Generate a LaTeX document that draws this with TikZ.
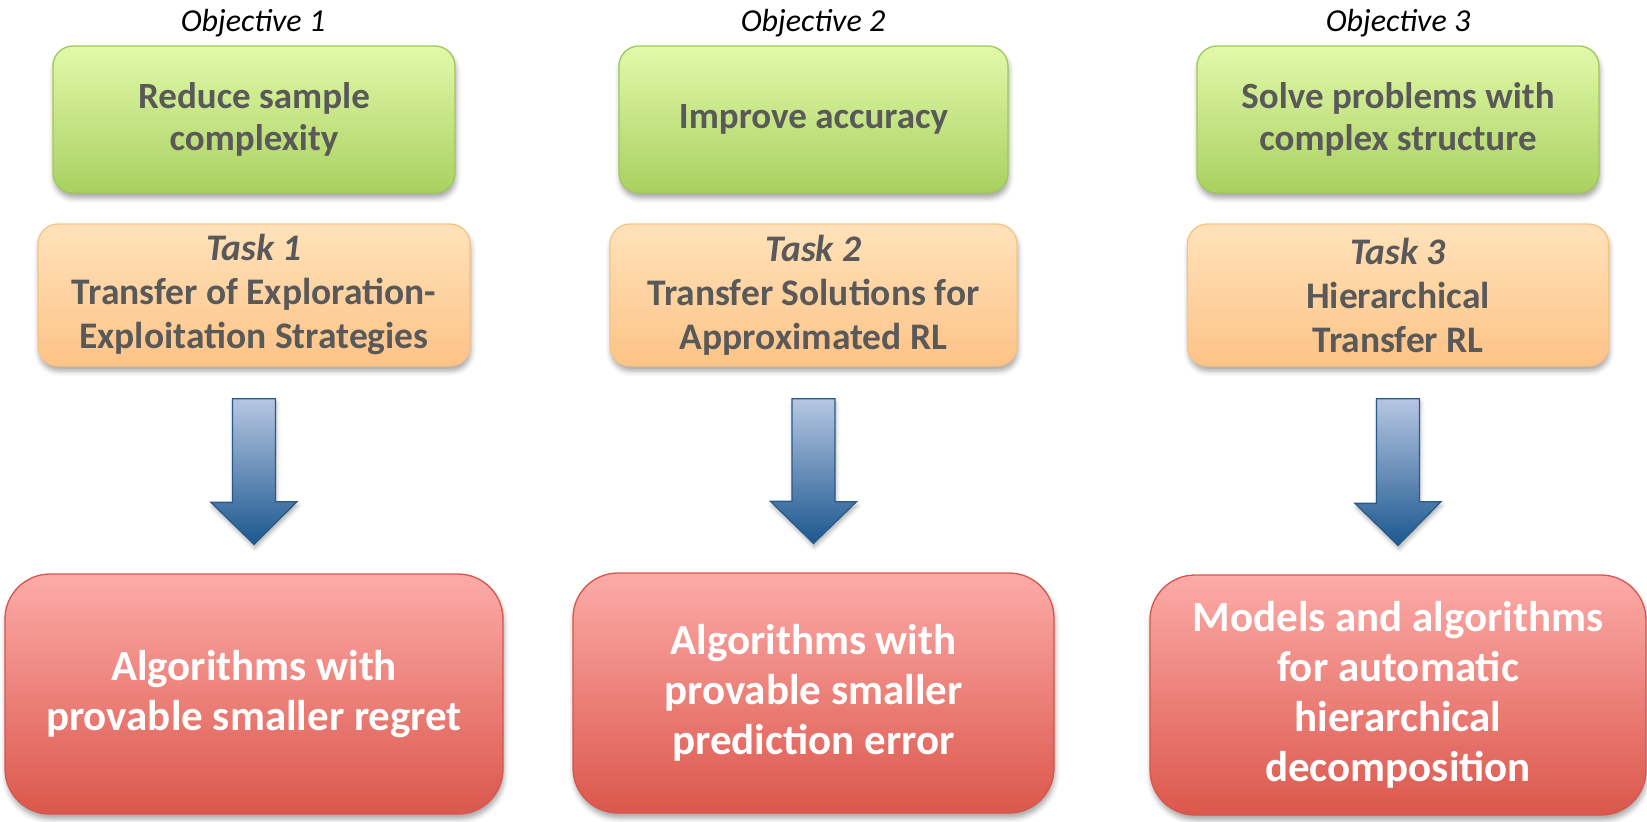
\documentclass[tikz,border=0pt]{standalone}
\usepackage{fontspec}
\setmainfont{Carlito}
\usetikzlibrary{calc,shadows.blur}
\definecolor{txtgray}{RGB}{89,89,89}
\definecolor{greentop}{RGB}{225,249,170}
\definecolor{greenbot}{RGB}{170,208,96}
\definecolor{greenline}{RGB}{160,200,90}
\definecolor{orangetop}{RGB}{255,226,186}
\definecolor{orangebot}{RGB}{253,195,135}
\definecolor{orangeline}{RGB}{250,195,130}
\definecolor{redtop}{RGB}{253,171,168}
\definecolor{redbot}{RGB}{219,87,76}
\definecolor{redline}{RGB}{215,85,75}
\definecolor{arrowtop}{RGB}{182,198,226}
\definecolor{arrowbot}{RGB}{28,88,143}
\definecolor{arrowline}{RGB}{40,90,138}
\begin{document}
\begin{tikzpicture}[x=1pt,y=1pt,
  box/.style={rectangle, align=center, text=txtgray, line width=1.3pt,
    blur shadow={shadow xshift=1pt, shadow yshift=-5pt, shadow blur radius=5pt, shadow opacity=35}},
  objbox/.style={box, rounded corners=20pt, top color=greentop, bottom color=greenbot,
    draw=greenline, minimum height=147pt, font=\fontsize{37}{42}\selectfont\bfseries},
  taskbox/.style={box, rounded corners=20pt, top color=orangetop, bottom color=orangebot,
    draw=orangeline, minimum height=142pt, font=\fontsize{37.5}{44}\selectfont\bfseries},
  resbox/.style={box, rounded corners=45pt, top color=redtop, bottom color=redbot,
    draw=redline, minimum height=240pt, text=white, font=\fontsize{43}{50}\selectfont\bfseries},
  objlabel/.style={font=\fontsize{32}{36}\selectfont\itshape, text=black, inner sep=0pt, anchor=base},
  bigarrow/.style={top color=arrowtop, bottom color=arrowbot, draw=arrowline, line width=1.3pt,
    line join=miter, blur shadow={shadow xshift=1pt, shadow yshift=-4pt, shadow blur radius=4pt, shadow opacity=30}}
]
\useasboundingbox (0,0) rectangle (1647,-822);

% objective captions
\node[objlabel] (o1) at (253,-31) {Objective 1};
\node[objlabel] (o2) at (813,-31) {Objective 2};
\node[objlabel] (o3) at (1398,-31) {Objective 3};

% objectives
\node[objbox, minimum width=402pt] (g1) at (254,-119.5) {Reduce sample\\complexity};
\node[objbox, minimum width=389pt] (g2) at (813.5,-119.5) {Improve accuracy};
\node[objbox, minimum width=402pt] (g3) at (1398,-119.5) {Solve problems with\\complex structure};

% tasks
\node[taskbox, minimum width=432pt] (t1) at (254,-295) {{\itshape Task 1}\\Transfer of Exploration-\\Exploitation Strategies};
\node[taskbox, minimum width=407pt] (t2) at (813.5,-295) {{\itshape Task 2}\\Transfer Solutions for\\Approximated RL};
\node[taskbox, minimum width=421pt] (t3) at (1398,-295) {{\itshape Task 3}\\Hierarchical\\Transfer RL};

% results
\node[resbox, minimum width=498pt] (r1) at (254,-694) {Algorithms with\\provable smaller regret};
\node[resbox, minimum width=481pt] (r2) at (813.5,-693) {Algorithms with\\provable smaller\\prediction error};
\node[resbox, minimum width=496pt] (r3) at (1398,-695) {Models and algorithms\\for automatic\\hierarchical\\decomposition};

% block arrows from each task to its result
\foreach \t/\r in {t1/r1, t2/r2, t3/r3}{
  \draw[bigarrow] ($(\t.south)+(-21.5,-32)$) -- ++(43,0) -- ++(0,-103) -- ++(21.5,0)
    -- ($(\r.north)+(0,29)$) -- ++(-43,42) -- ++(21.5,0) -- cycle;
}
\end{tikzpicture}
\end{document}
